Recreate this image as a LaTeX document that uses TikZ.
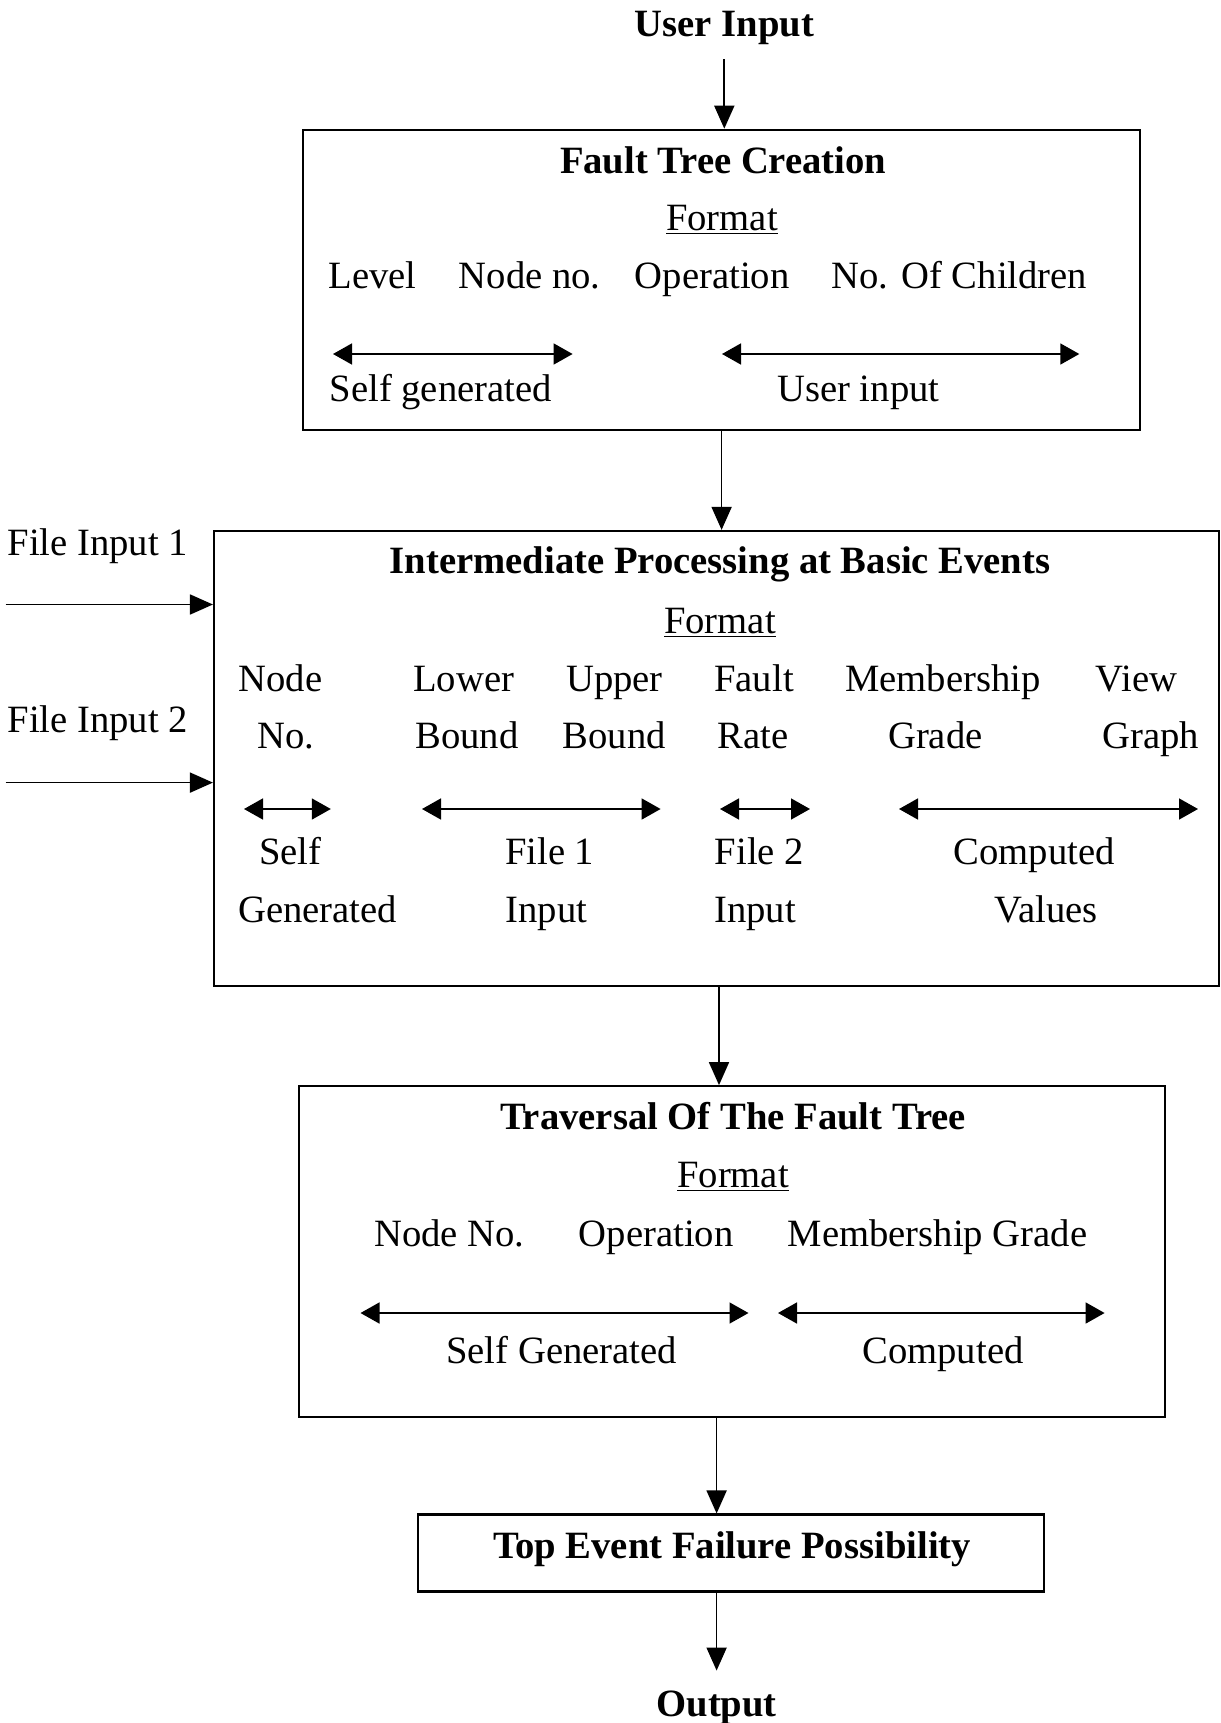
\documentclass[tikz,border=0pt]{standalone}
\usepackage{fontspec}
\setmainfont{Liberation Serif}
\usetikzlibrary{arrows.meta}

\begin{document}
\begin{tikzpicture}[x=0.02cm, y=-0.02cm,
    font=\fontsize{22}{26}\selectfont,
    box/.style={draw, line width=1.2pt, inner sep=0pt},
    txt/.style={inner sep=0pt, anchor=base, yshift=-0.07cm},
    flow/.style={line width=1pt, -{Triangle[length=0.46cm, width=0.4cm]}},
    span/.style={line width=0.9pt, {Triangle[length=0.38cm, width=0.42cm]}-{Triangle[length=0.38cm, width=0.42cm]}}]
    \useasboundingbox (0,0) rectangle (1220,1723);

    % Draw the four boxes
    \node[box, minimum width=16.73cm, minimum height=6cm] (create) at (721.6,279.7) {};
    \node[box, minimum width=20.1cm, minimum height=9.1cm] (proc) at (716.4,758.4) {};
    \node[box, minimum width=17.32cm, minimum height=6.61cm] (trav) at (732,1251.4) {};
    \node[box, minimum width=12.53cm, minimum height=1.54cm] (top) at (730.9,1553) {};

    % Fault tree creation
    \node[txt] (userin) at (724.3,33) {\textbf{User Input}};
    \node[txt] (createtitle) at (723.2,170) {\textbf{Fault Tree Creation}};
    \node[txt] (createfmt) at (722,227) {\underline{Format}};
    \node[txt] (level) at (372.6,285) {Level};
    \node[txt] (nodeno) at (529.8,285) {Node no.};
    \node[txt] (oper) at (712.2,285) {Operation};
    \node[txt] (children) at (959.5,285) {No. Of Children};
    \node[txt] (selfgen) at (440.7,398) {Self generated};
    \node[txt] (userinput) at (858.4,398) {User input};

    % Intermediate processing
    \node[txt] (proctitle) at (720,570) {\textbf{Intermediate Processing at Basic Events}};
    \node[txt] (procfmt) at (720,630) {\underline{Format}};
    \node[txt] (file1) at (97.8,552) {File Input 1};
    \node[txt] (file2) at (97.8,729) {File Input 2};
    \foreach \x/\t/\n in {280.3/Node/pa, 463.8/Lower/pb, 614.4/Upper/pc,
        754/Fault/pd, 943/Membership/pe, 1136.5/View/pf}
        \node[txt] (\n) at (\x,688) {\t};
    \foreach \x/\t/\n in {285.8/No./qa, 467/Bound/qb, 614.4/Bound/qc,
        752.9/Rate/qd, 935.3/Grade/qe, 1150.8/Graph/qf}
        \node[txt] (\n) at (\x,745) {\t};
    \foreach \x/\t/\n in {290.2/Self/ra, 549.6/File 1/rb, 759.5/File 2/rc, 1034.3/Computed/rd}
        \node[txt] (\n) at (\x,861) {\t};
    \foreach \x/\t/\n in {317.6/Generated/sa, 546.3/Input/sb, 755/Input/sc, 1046.3/Values/sd}
        \node[txt] (\n) at (\x,919) {\t};

    % Traversal
    \node[txt] (travtitle) at (733,1126) {\textbf{Traversal Of The Fault Tree}};
    \node[txt] (travfmt) at (733,1184) {\underline{Format}};
    \node[txt] (tnode) at (449.5,1243) {Node No.};
    \node[txt] (toper) at (656.2,1243) {Operation};
    \node[txt] (tgrade) at (937.5,1243) {Membership Grade};
    \node[txt] (tself) at (561.6,1360) {Self Generated};
    \node[txt] (tcomp) at (943,1360) {Computed};

    % Result
    \node[txt] (toptext) at (732,1555) {\textbf{Top Event Failure Possibility}};
    \node[txt] (output) at (716.6,1713) {\textbf{Output}};

    % Spans inside the boxes
    \foreach \a/\b/\y in {333/572.6/354, 722/1079.3/354,
        244/330.8/809, 422/660.6/809, 720/810/809, 899/1198/809,
        360.5/748.5/1313, 778/1104.6/1313}
        \draw[span] (\a,\y) -- (\b,\y);

    % Flow arrows
    \coordinate (f1) at (5.5,604.5);
    \coordinate (f2) at (5.5,782.6);
    \coordinate (t3) at (716.6,1416.7);
    \draw[flow, shorten <=0.28cm] (userin.south) -- (userin.south |- create.north);
    \draw[flow] (create.south) -- (create.south |- proc.north);
    \draw[flow] (f1) -- (f1 -| proc.west);
    \draw[flow] (f2) -- (f2 -| proc.west);
    \draw[flow] (proc.south -| t3) ++(2.4,0) -- ([xshift=0.048cm]t3 |- trav.north);
    \draw[flow] (t3) -- (t3 |- top.north);
    \draw[flow, shorten >=0.4cm] (t3 |- top.south) -- (output.north);
\end{tikzpicture}
\end{document}
